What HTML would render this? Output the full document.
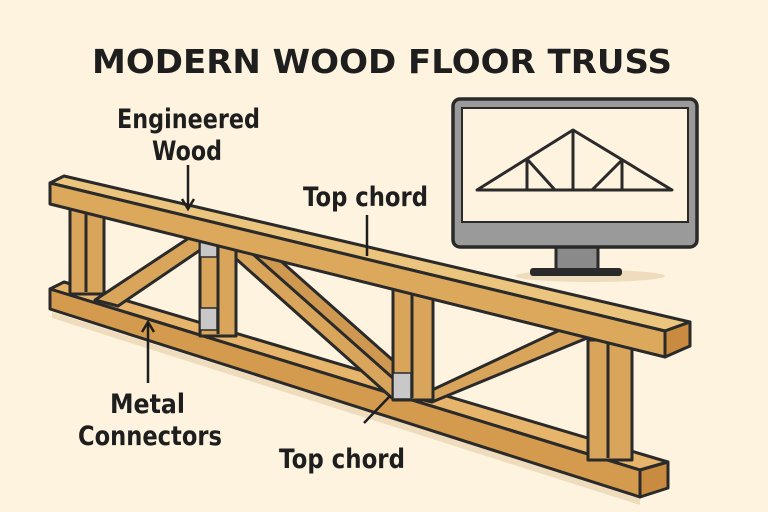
<!DOCTYPE html>
<html><head><meta charset="utf-8"><style>
html,body{margin:0;padding:0;background:#fdf3df;}
svg{display:block}
text{font-family:"DejaVu Sans","Liberation Sans",sans-serif;fill:#1e1e1e}
</style></head><body>
<svg width="768" height="512" viewBox="0 0 768 512" xmlns="http://www.w3.org/2000/svg">
<rect width="768" height="512" fill="#fdf3df"/>
<text x="92" y="73" font-size="33" font-weight="bold" textLength="580" lengthAdjust="spacingAndGlyphs">MODERN WOOD FLOOR TRUSS</text>

<ellipse cx="590" cy="276" rx="75" ry="6" fill="#efdcbc"/>
<rect x="556" y="244" width="42" height="28" fill="#8a8a8a" stroke="#2a2a2a" stroke-width="3"/>
<rect x="530" y="268" width="92" height="8" rx="3" fill="#2a2a2a"/>
<rect x="453" y="99" width="244" height="148" rx="7" fill="#9a9a9a" stroke="#2a2a2a" stroke-width="3.5"/>
<rect x="462" y="108" width="226" height="114" fill="#fdf3df" stroke="#2a2a2a" stroke-width="2"/>
<g stroke="#2a2a2a" stroke-width="3" fill="none" stroke-linejoin="round">
<polygon points="477,190 573,130 672,190"/>
<line x1="527" y1="159" x2="527" y2="190"/><line x1="622" y1="160" x2="622" y2="190"/>
<line x1="573" y1="130" x2="573" y2="190"/>
<line x1="527" y1="159" x2="555" y2="190"/><line x1="622" y1="160" x2="592" y2="190"/>
</g>

<g stroke="#2a2a2a" stroke-width="3" stroke-linejoin="round">
<polygon points="52,312 640,498 640,505 52,318" fill="#efdcbc" stroke="none"/>
<polygon points="50,289 64,282 668,462 640,470" fill="#e6b46a"/>
<polygon points="50,289 640,470 640,497 50,309" fill="#d49a4e"/>
<polygon points="640,470 668,462 668,488 640,497" fill="#c98b40"/>
<rect x="70" y="198" width="34" height="96" fill="#d9a55a"/>
<line x1="86" y1="200" x2="86" y2="292"/>
<polygon points="95,300 192,236 212,242 118,306" fill="#d9a55a"/>
<polygon points="215,240 245,245 412,395 392,398" fill="#d9a55a"/>
<polygon points="246,248 274,255 432,395 412,395" fill="#cf9850"/>
<polygon points="415,398 560,330 592,336 432,402" fill="#d9a55a"/>
<rect x="200" y="234" width="36" height="102" fill="#d9a55a"/>
<line x1="218" y1="236" x2="218" y2="334"/>
<rect x="200" y="237" width="17" height="20" fill="#c8c8c8" stroke-width="1.5"/>
<rect x="200" y="308" width="17" height="22" fill="#c8c8c8" stroke-width="1.5"/>
<rect x="393" y="288" width="40" height="112" fill="#d9a55a"/>
<line x1="412" y1="290" x2="412" y2="398"/>
<rect x="393" y="373" width="18" height="26" fill="#c8c8c8" stroke-width="1.5"/>
<rect x="588" y="340" width="44" height="120" fill="#d9a55a"/>
<line x1="608" y1="342" x2="608" y2="458"/>
<polygon points="50,183 64,176 690,322 665,331" fill="#ebc47e"/>
<polygon points="50,183 665,331 665,357 50,204" fill="#dba85c"/>
<polygon points="665,331 690,322 690,346 665,357" fill="#c98b40"/>
</g>

<g stroke="#1e1e1e" stroke-width="2.5" fill="none">
<line x1="188" y1="165" x2="188" y2="208"/><polyline points="182,199 188,209 194,199"/>
<line x1="367" y1="215" x2="367" y2="256"/>
<line x1="148" y1="383" x2="148" y2="323"/><polyline points="142,332 148,322 154,332"/>
<line x1="364" y1="423" x2="390" y2="396"/>
</g>

<g font-size="27" font-weight="bold" lengthAdjust="spacingAndGlyphs">
<text x="117" y="128" textLength="143" lengthAdjust="spacingAndGlyphs">Engineered</text>
<text x="152" y="160" textLength="70" lengthAdjust="spacingAndGlyphs">Wood</text>
<text x="303" y="206" textLength="125" lengthAdjust="spacingAndGlyphs">Top chord</text>
<text x="110" y="413" textLength="75" lengthAdjust="spacingAndGlyphs">Metal</text>
<text x="78" y="445" textLength="144" lengthAdjust="spacingAndGlyphs">Connectors</text>
<text x="279" y="468" textLength="126" lengthAdjust="spacingAndGlyphs">Top chord</text>
</g>
</svg>
</body></html>
